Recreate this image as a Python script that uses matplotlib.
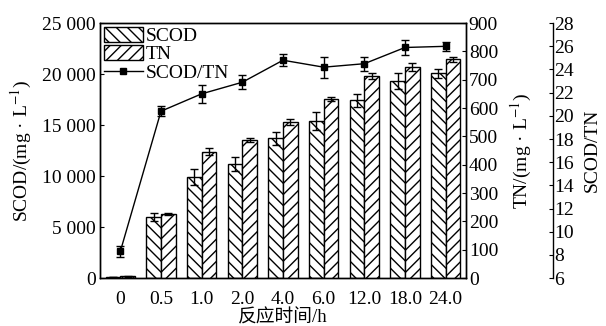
import matplotlib
matplotlib.use('Agg')
import matplotlib.pyplot as plt
import numpy as np
from matplotlib.patches import Patch
from matplotlib.lines import Line2D

# 数据
times = ['0', '0.5', '1.0', '2.0', '4.0', '6.0', '12.0', '18.0', '24.0']
scod = [60, 5950, 9870, 11150, 13700, 15400, 17450, 19340, 20070]
scod_err = [0, 390, 780, 690, 650, 880, 650, 820, 460]
tn = [6, 225, 446, 486, 551, 632, 713, 746, 772]
tn_err = [2, 3, 12, 7, 9, 7, 10, 14, 9]
ratio = [8.3, 20.4, 21.9, 22.9, 24.8, 24.2, 24.5, 25.9, 26.0]
ratio_err = [0.45, 0.43, 0.75, 0.6, 0.5, 0.9, 0.6, 0.65, 0.4]

plt.rcParams['font.family'] = ['Liberation Serif', 'Noto Sans CJK SC']
plt.rcParams['mathtext.fontset'] = 'stix'
plt.rcParams['font.size'] = 14
plt.rcParams['hatch.linewidth'] = 1.0

fig = plt.figure(figsize=(6.06, 3.26), dpi=100)
ax1 = fig.add_axes([0.165, 0.147, 0.604, 0.782])
ax2 = ax1.twinx()
ax3 = ax1.twinx()

x = np.arange(len(times))
w = 0.36

ax1.bar(x - w / 2, scod, w, color='white', edgecolor='black', hatch='\\\\\\', linewidth=1.0)
ax1.errorbar(x - w / 2, scod, yerr=scod_err, fmt='none', ecolor='black', elinewidth=1.0, capsize=3)
ax2.bar(x + w / 2, tn, w, color='white', edgecolor='black', hatch='///', linewidth=1.0)
ax2.errorbar(x + w / 2, tn, yerr=tn_err, fmt='none', ecolor='black', elinewidth=1.0, capsize=3)
ax3.errorbar(x, ratio, yerr=ratio_err, color='black', marker='s', markersize=5, linewidth=1.0,
             elinewidth=1.0, capsize=3)

ax1.set_xlim(-0.5, len(times) - 0.5)
ax1.set_ylim(0, 25000)
ax1.set_yticks(range(0, 25001, 5000))
ax1.set_yticklabels(['0', '5 000', '10 000', '15 000', '20 000', '25 000'])
ax1.set_xticks(x)
ax1.set_xticklabels(times)
ax1.tick_params(axis='x', length=0, pad=9)
ax1.tick_params(axis='y', direction='in', length=3, pad=3)
ax1.set_ylabel('SCOD/(mg · L$^{-1}$)', labelpad=6)
ax1.set_xlabel('反应时间/h', labelpad=1, fontsize=13.5)

ax2.set_ylim(0, 900)
ax2.set_yticks(range(0, 901, 100))
ax2.tick_params(axis='y', direction='in', length=3, pad=2)
ax2.set_ylabel('TN/(mg · L$^{-1}$)', labelpad=8)

ax3.set_ylim(6, 28)
ax3.set_yticks(range(6, 29, 2))
ax3.spines['right'].set_position(('axes', 1.238))
ax3.tick_params(axis='y', direction='in', length=3, pad=1)
ax3.set_ylabel('SCOD/TN', labelpad=7)
for s in ['top', 'left', 'bottom']:
    ax3.spines[s].set_visible(False)

for a in (ax1, ax2, ax3):
    for s in a.spines.values():
        s.set_linewidth(1.0)

handles = [Patch(facecolor='white', edgecolor='black', hatch='\\\\\\'),
           Patch(facecolor='white', edgecolor='black', hatch='///'),
           Line2D([], [], color='black', marker='s', markersize=5, linewidth=1.0)]
ax3.legend(handles, ['SCOD', 'TN', 'SCOD/TN'], loc='upper left', frameon=False,
           borderaxespad=0.1, labelspacing=0.0, handlelength=2.0, handleheight=0.8,
           handletextpad=0.15, borderpad=0.1)

fig.savefig('out.png', dpi=100)
